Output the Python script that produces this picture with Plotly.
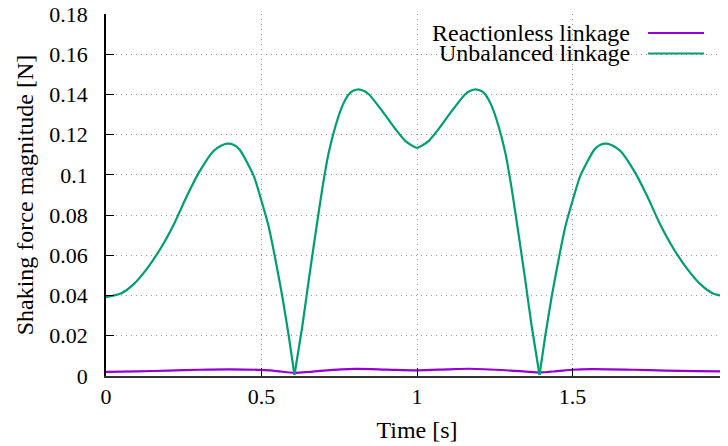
import plotly.graph_objects as go

# ---- data ----
time_unbalanced = [0.00, 0.05, 0.09, 0.13, 0.175, 0.22, 0.26, 0.30, 0.345, 0.37, 0.39, 0.41, 0.43,
                   0.475, 0.50, 0.523, 0.545, 0.567, 0.588, 0.606, 0.631, 0.652, 0.674, 0.695,
                   0.716, 0.738, 0.76, 0.781, 0.795, 0.812, 0.828, 0.845, 0.888, 0.931, 0.963, 1.00,
                   1.037, 1.069, 1.112, 1.155, 1.172, 1.188, 1.205, 1.219, 1.24, 1.262, 1.284,
                   1.305, 1.326, 1.348, 1.369, 1.394, 1.412, 1.433, 1.455, 1.477, 1.50, 1.525,
                   1.57, 1.59, 1.61, 1.63, 1.655, 1.70, 1.74, 1.78, 1.825, 1.87, 1.91, 1.95, 2.00]
force_unbalanced = [0.0392, 0.0412, 0.0458, 0.0530, 0.0633, 0.0760, 0.0895, 0.1015, 0.1118, 0.1145,
                    0.1155, 0.1150, 0.1125, 0.0995, 0.0870, 0.0743, 0.0577, 0.0394, 0.0195, 0.0005,
                    0.0245, 0.0478, 0.0711, 0.0927, 0.1110, 0.1243, 0.1343, 0.1401, 0.1418, 0.1425,
                    0.1418, 0.1401, 0.1318, 0.1227, 0.1168, 0.1135,
                    0.1168, 0.1227, 0.1318, 0.1401, 0.1418, 0.1425, 0.1418, 0.1401, 0.1343, 0.1243,
                    0.1110, 0.0927, 0.0711, 0.0478, 0.0245, 0.0005, 0.0195, 0.0394, 0.0577, 0.0743,
                    0.0870, 0.0995, 0.1125, 0.1150, 0.1155, 0.1145, 0.1118, 0.1015, 0.0895, 0.0760,
                    0.0633, 0.0530, 0.0458, 0.0412, 0.0392]
# times of the sharp zero crossings (cusps) in the unbalanced series
cusp_times = [0.606, 1.394]

time_reactionless = [0.00, 0.10, 0.20, 0.30, 0.40, 0.50, 0.55, 0.606, 0.65, 0.70, 0.80, 0.90, 1.00,
                     1.10, 1.17, 1.30, 1.35, 1.397, 1.45, 1.50, 1.56, 1.70, 1.80, 1.90, 2.00]
force_reactionless = [0.0021, 0.0023, 0.0027, 0.0031, 0.0033, 0.0030, 0.0024, 0.0016, 0.0020, 0.0027,
                      0.0035, 0.0032, 0.0028, 0.0033, 0.0036, 0.0027, 0.0022, 0.0018, 0.0024, 0.0031,
                      0.0034, 0.0031, 0.0027, 0.0024, 0.0023]

series_names = ["Reactionless linkage", "Unbalanced linkage"]
series_colors = ["#9400d3", "#009e73"]

x_ticks = [0, 0.5, 1, 1.5, 2]
y_ticks = [0, 0.02, 0.04, 0.06, 0.08, 0.10, 0.12, 0.14, 0.16, 0.18]

FONT = "Times New Roman, Liberation Serif, Tinos, DejaVu Serif, serif"

fig = go.Figure()
fig.add_trace(go.Scatter(x=time_reactionless, y=force_reactionless, mode="lines",
                         line=dict(color=series_colors[0], width=2.2, shape="spline", smoothing=0.8),
                         name=series_names[0], showlegend=False))

# unbalanced series: smooth pieces joined at the sharp cusps
cut_idx = [0] + [time_unbalanced.index(c) for c in cusp_times] + [len(time_unbalanced) - 1]
for a, b in zip(cut_idx[:-1], cut_idx[1:]):
    fig.add_trace(go.Scatter(x=time_unbalanced[a:b + 1], y=force_unbalanced[a:b + 1], mode="lines",
                             line=dict(color=series_colors[1], width=2.2, shape="spline", smoothing=0.6),
                             name=series_names[1], showlegend=False))

# gnuplot-style key: right-aligned text with line sample on the right
key_rows_y = [0.9475, 0.8909]
for name, color, ky in zip(series_names, series_colors, key_rows_y):
    fig.add_annotation(x=0.8458, y=ky, xref="paper", yref="paper", text=name,
                       showarrow=False, xanchor="right", yanchor="middle",
                       font=dict(family=FONT, size=24, color="black"))
    fig.add_shape(type="line", xref="paper", yref="paper", x0=0.8715, x1=0.9614,
                  y0=ky, y1=ky, line=dict(color=color, width=2.2))

# the page places the figure 8 px in from the top-left corner, so the figure is
# sized and margined to land the plot area where it is in the reference
fig.update_layout(
    width=720, height=438,
    margin=dict(l=97.5, r=0, t=6, b=70, autoexpand=False),
    paper_bgcolor="white", plot_bgcolor="white",
    font=dict(family=FONT, size=22, color="black"),
)
grid_dash = "1px,4px"
fig.update_xaxes(
    range=[0, 2], tickvals=x_ticks, ticktext=[f"{v:g}" for v in x_ticks],
    ticks="inside", ticklen=8, tickcolor="black", tickwidth=1,
    showline=True, linecolor="#333333", linewidth=2,
    showgrid=True, gridcolor="#999999", griddash=grid_dash, gridwidth=1,
    zeroline=False, ticklabelstandoff=0, automargin=False, ticklabeloverflow="allow",
    tickfont=dict(family=FONT, size=22),
    title=dict(text="Time [s]", font=dict(family=FONT, size=24), standoff=13),
)
fig.update_yaxes(
    range=[0, 0.18], tickvals=y_ticks, ticktext=[f"{v:g}" for v in y_ticks],
    ticks="inside", ticklen=8, tickcolor="black", tickwidth=1,
    showline=True, linecolor="black", linewidth=1.5, mirror="ticks",
    showgrid=True, gridcolor="#999999", griddash=grid_dash, gridwidth=1,
    zeroline=False, ticklabelstandoff=12, automargin=False, ticklabeloverflow="allow",
    tickfont=dict(family=FONT, size=22),
    title=dict(text="Shaking force magnitude [N]", font=dict(family=FONT, size=24), standoff=9),
)

fig.write_html("out.html")
